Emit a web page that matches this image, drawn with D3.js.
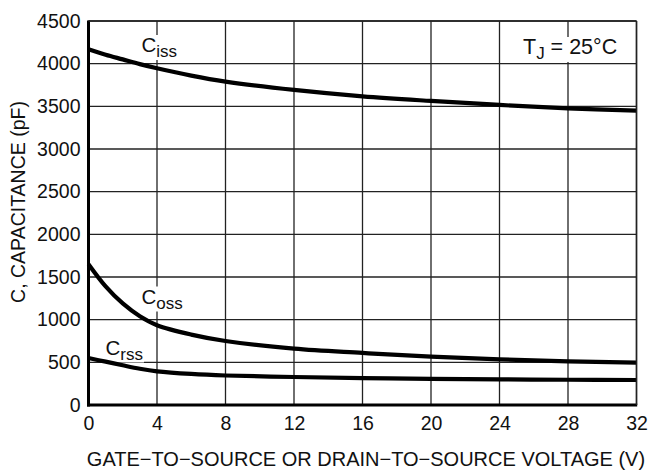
<!DOCTYPE html>
<html><head><meta charset="utf-8">
<script src="https://cdn.jsdelivr.net/npm/d3@7"></script>
<style>body{margin:0;background:#fff}svg{display:block}text{font-family:"Liberation Sans",Arial,sans-serif;fill:#111}</style>
</head><body><svg id="c" width="656" height="471"></svg>
<script>
const voltage = [0,1,2,3,4,6,8,12,16,20,24,28,32];
const ciss = [4170,4105,4050,3995,3946,3860,3790,3692,3617,3563,3516,3477,3449];
const coss = [1650,1390,1190,1040,935,825,750,660,610,566,535,512,496];
const crss = [550,508,465,425,395,364,346,328,316,305,300,296,293];
const xTicks = [0,4,8,12,16,20,24,28,32];
const yTicks = [0,500,1000,1500,2000,2500,3000,3500,4000,4500];

const svg = d3.select("#c");
const L=88.5, R=636.5, T=21, B=405;
const x = d3.scaleLinear().domain([0,32]).range([L,R]);
const y = d3.scaleLinear().domain([0,4500]).range([B,T]);

// grid
const g = svg.append("g");
g.selectAll(".vg").data(xTicks.slice(1)).join("line")
  .attr("x1",d=>x(d)).attr("x2",d=>x(d)).attr("y1",T).attr("y2",B)
  .attr("stroke","#222").attr("stroke-width",1.3);
g.selectAll(".hg").data(yTicks.slice(1)).join("line")
  .attr("x1",L).attr("x2",R).attr("y1",d=>y(d)).attr("y2",d=>y(d))
  .attr("stroke","#222").attr("stroke-width",1.3);

// axes
const xAxis = svg.append("g").attr("transform",`translate(0,${B})`)
  .call(d3.axisBottom(x).tickValues(xTicks).tickSize(0).tickPadding(11).tickFormat(d3.format("d")));
const yAxis = svg.append("g").attr("transform",`translate(${L},0)`)
  .call(d3.axisLeft(y).tickValues(yTicks).tickSize(0).tickPadding(8).tickFormat(d3.format("d")));
[xAxis,yAxis].forEach(a=>{a.select(".domain").remove();a.selectAll("text").attr("font-size",19.5).attr("fill","#111").attr("font-family","Liberation Sans, Arial, sans-serif");});
xAxis.selectAll("text").attr("dy","0.71em");

svg.append("line").attr("x1",L).attr("x2",L).attr("y1",T-0.5).attr("y2",B+1.5).attr("stroke","#000").attr("stroke-width",3);
svg.append("line").attr("x1",L-1.5).attr("x2",R+0.7).attr("y1",B).attr("y2",B).attr("stroke","#000").attr("stroke-width",3);

// labels with white backgrounds
function sublabel(px,py,main,sub){
  const t = svg.append("text").attr("x",px).attr("y",py).attr("font-size",20.5);
  t.append("tspan").text(main);
  t.append("tspan").attr("font-size",17).attr("dy",5).text(sub);
  return t;
}
function bg(t){
  const b=t.node().getBBox();
  svg.insert("rect",()=>t.node()).attr("x",b.x-1).attr("y",b.y+2).attr("width",b.width+2).attr("height",b.height-3).attr("fill","#fff");
}
const lc = sublabel(141.5,52,"C","iss"); bg(lc);
const lo = sublabel(141.5,303.5,"C","oss"); bg(lo);
const lr = sublabel(105.5,354.5,"C","rss"); bg(lr);
const tj = svg.append("text").attr("x",523).attr("y",54).attr("font-size",21.5);
tj.append("tspan").text("T");
tj.append("tspan").attr("font-size",17).attr("dy",5).text("J");
tj.append("tspan").attr("dy",-5).text(" = 25°C");
bg(tj);

// curves
const line = d3.line().x((d,i)=>x(voltage[i])).y(d=>y(d)).curve(d3.curveCatmullRom.alpha(0.5));
[ciss,coss,crss].forEach(s=>{
  svg.append("path").attr("d",line(s)).attr("fill","none").attr("stroke","#000").attr("stroke-width",4.2);
});

// border top/right
svg.append("line").attr("x1",L).attr("x2",R).attr("y1",T).attr("y2",T).attr("stroke","#222").attr("stroke-width",1.5);
svg.append("line").attr("x1",R).attr("x2",R).attr("y1",T).attr("y2",B).attr("stroke","#222").attr("stroke-width",1.5);

// titles
svg.append("text").attr("x",366).attr("y",466).attr("text-anchor","middle").attr("font-size",20)
  .text("GATE\u2212TO\u2212SOURCE OR DRAIN\u2212TO\u2212SOURCE VOLTAGE (V)");
svg.append("text").attr("transform","translate(25,202) rotate(-90)").attr("text-anchor","middle").attr("font-size",19.5)
  .text("C, CAPACITANCE (pF)");
</script></body></html>
